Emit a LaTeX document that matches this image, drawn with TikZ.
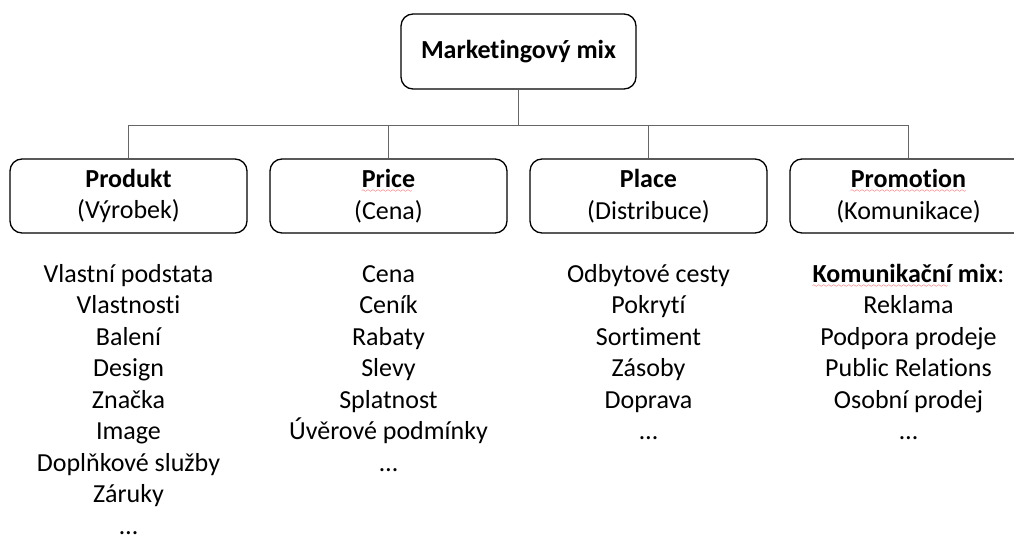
\documentclass[tikz,border=0pt]{standalone}
\usepackage{fontspec}
\setmainfont{Carlito}[Ligatures=NoCommon]
\usetikzlibrary{positioning}
\font\wavefont=lasy6
\newsavebox\wavebox
\newcommand\spellwave[1]{\sbox\wavebox{#1}\rlap{\color{red!85!black}\lower5pt\hbox to\wd\wavebox{\leaders\hbox{\wavefont\char58}\hfill}}\usebox\wavebox}

\begin{document}
\begin{tikzpicture}
  [x=1pt,y=1pt,
    every node/.style={font=\fontsize{26}{31.5}\selectfont},
    box/.style={draw,rounded corners=12pt,line width=1.3pt,align=center,
      minimum width=237pt,minimum height=74pt,inner sep=0pt},
    itemlist/.style={align=center,inner sep=0pt},
    level distance=144.5pt,
    level 1/.style={sibling distance=260pt},
    edge from parent/.style={draw,gray!80!black,line width=1pt},
    edge from parent path={(\tikzparentnode.south) -- +(0,-36pt) -| (\tikzchildnode.north)},
]
  \useasboundingbox (0,0) rectangle (1014,536);
  \clip (0,0) rectangle (1014,536);
  \node[box,minimum width=235pt,minimum height=75pt] (mix) at (518.5,484.5) {\textbf{Marketingový mix}}
  child {node[box] (prod) {\textbf{Produkt}\\(Výrobek)}}
  child {node[box] (price) {\textbf{\spellwave{Price}}\\(Cena)}}
  child {node[box] (place) {\textbf{Place}\\(Distribuce)}}
  child {node[box] (promo) {\textbf{\spellwave{Promotion}}\\(Komunikace)}};

  % seznamy pod kategoriemi
  \node[itemlist,below=26.4pt of prod] (prodlist) {\strut Vlastní podstata\\Vlastnosti\\Balení\\Design\\Značka\\Image\\Doplňkové služby\\Záruky\\…};
  \node[itemlist,below=26.4pt of price] (pricelist) {\strut Cena\\Ceník\\Rabaty\\Slevy\\Splatnost\\Úvěrové podmínky\\…};
  \node[itemlist,below=26.4pt of place] (placelist) {\strut Odbytové cesty\\Pokrytí\\Sortiment\\Zásoby\\Doprava\\…};
  \node[itemlist,below=26.4pt of promo] (promolist) {\strut\textbf{\spellwave{Komunikační} mix}:\\Reklama\\Podpora prodeje\\Public Relations\\Osobní prodej\\…};
\end{tikzpicture}
\end{document}
